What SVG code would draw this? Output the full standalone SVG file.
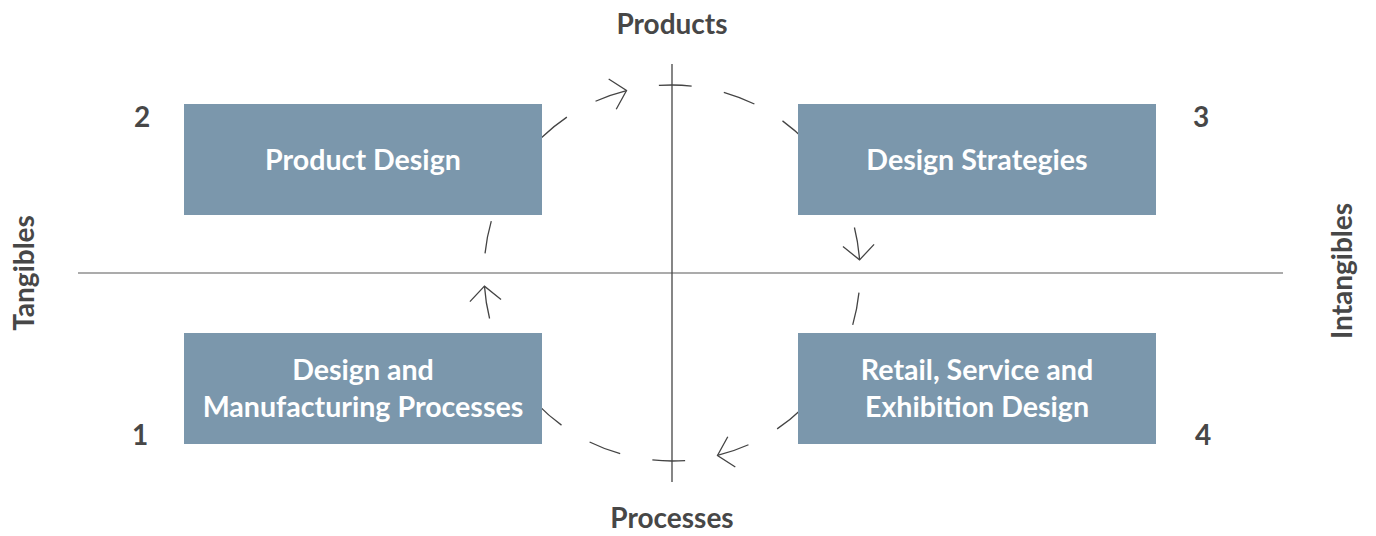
<svg xmlns="http://www.w3.org/2000/svg" width="1376" height="536" viewBox="0 0 1376 536">
<style>
.box{fill:#7B97AC}
.bt{font-family:Lato,"Liberation Sans",sans-serif;font-weight:700;font-size:28.6px;fill:#ffffff;text-anchor:middle}
.lbl{font-family:Lato,"Liberation Sans",sans-serif;font-weight:700;font-size:28px;fill:#474747;text-anchor:middle}
.dash{fill:none;stroke:#444;stroke-width:1.3}
.arr{fill:none;stroke:#444;stroke-width:1.3;marker-end:url(#v)}
</style>
<defs>
<marker id="v" markerUnits="userSpaceOnUse" markerWidth="40" markerHeight="40" viewBox="-20 -20 40 40" refX="0" refY="0" orient="auto" overflow="visible">
<path d="M-14.5,-15.6 L0,0 L-14.5,15.6" fill="none" stroke="#444" stroke-width="1.3"/>
</marker>
</defs>
<rect width="1376" height="536" fill="#ffffff"/>
<g id="axes">
<line x1="78" y1="273" x2="1283" y2="273" stroke="#8f8f8f" stroke-width="1.4"/>
<line x1="672" y1="64" x2="672" y2="482" stroke="#444" stroke-width="1.3"/>
</g>
<g id="connectors">
<path class="dash" d="M658.88,85.46 A188,188 0 0 1 691.65,86.03"/>
<path class="dash" d="M723.82,92.28 A188,188 0 0 1 754.41,104.03"/>
<path class="dash" d="M782.50,120.90 A188,188 0 0 1 807.24,142.40"/>
<path class="dash" d="M827.86,167.87 A188,188 0 0 1 843.75,196.53"/>
<path class="arr" d="M854.42,227.52 A188,188 0 0 1 859.54,259.88"/>
<path class="dash" d="M858.97,292.65 A188,188 0 0 1 852.72,324.82"/>
<path class="dash" d="M840.97,355.41 A188,188 0 0 1 824.10,383.50"/>
<path class="dash" d="M802.60,408.24 A188,188 0 0 1 777.13,428.86"/>
<path class="arr" d="M748.47,444.75 A188,188 0 0 1 717.48,455.42"/>
<path class="dash" d="M685.12,460.54 A188,188 0 0 1 652.35,459.97"/>
<path class="dash" d="M620.18,453.72 A188,188 0 0 1 589.59,441.97"/>
<path class="dash" d="M561.50,425.10 A188,188 0 0 1 536.76,403.60"/>
<path class="dash" d="M516.14,378.13 A188,188 0 0 1 500.25,349.47"/>
<path class="arr" d="M489.58,318.48 A188,188 0 0 1 484.46,286.12"/>
<path class="dash" d="M485.03,253.35 A188,188 0 0 1 491.28,221.18"/>
<path class="dash" d="M503.03,190.59 A188,188 0 0 1 519.90,162.50"/>
<path class="dash" d="M541.40,137.76 A188,188 0 0 1 566.87,117.14"/>
<path class="arr" d="M595.53,101.25 A188,188 0 0 1 626.52,90.58"/>
</g>
<g id="node-product-design">
<rect class="box" x="184" y="104" width="358" height="111"/>
<text class="bt" x="363" y="170">Product Design</text>
</g>
<g id="node-design-strategies">
<rect class="box" x="798" y="104" width="358" height="111"/>
<text class="bt" x="977" y="170">Design Strategies</text>
</g>
<g id="node-design-manufacturing">
<rect class="box" x="184" y="333" width="358" height="111"/>
<text class="bt" x="363" y="380">Design and</text>
<text class="bt" x="363" y="417">Manufacturing Processes</text>
</g>
<g id="node-retail">
<rect class="box" x="798" y="333" width="358" height="111"/>
<text class="bt" x="977" y="380">Retail, Service and</text>
<text class="bt" x="977" y="417">Exhibition Design</text>
</g>
<g id="labels">
<text class="lbl" x="672" y="34">Products</text>
<text class="lbl" x="672" y="528">Processes</text>
<text class="lbl" transform="translate(34,273) rotate(-90)">Tangibles</text>
<text class="lbl" transform="translate(1352,271) rotate(-90)">Intangibles</text>
<text class="lbl" x="142" y="127">2</text>
<text class="lbl" x="1201" y="127">3</text>
<text class="lbl" x="140" y="445">1</text>
<text class="lbl" x="1203" y="445">4</text>
</g>
</svg>
